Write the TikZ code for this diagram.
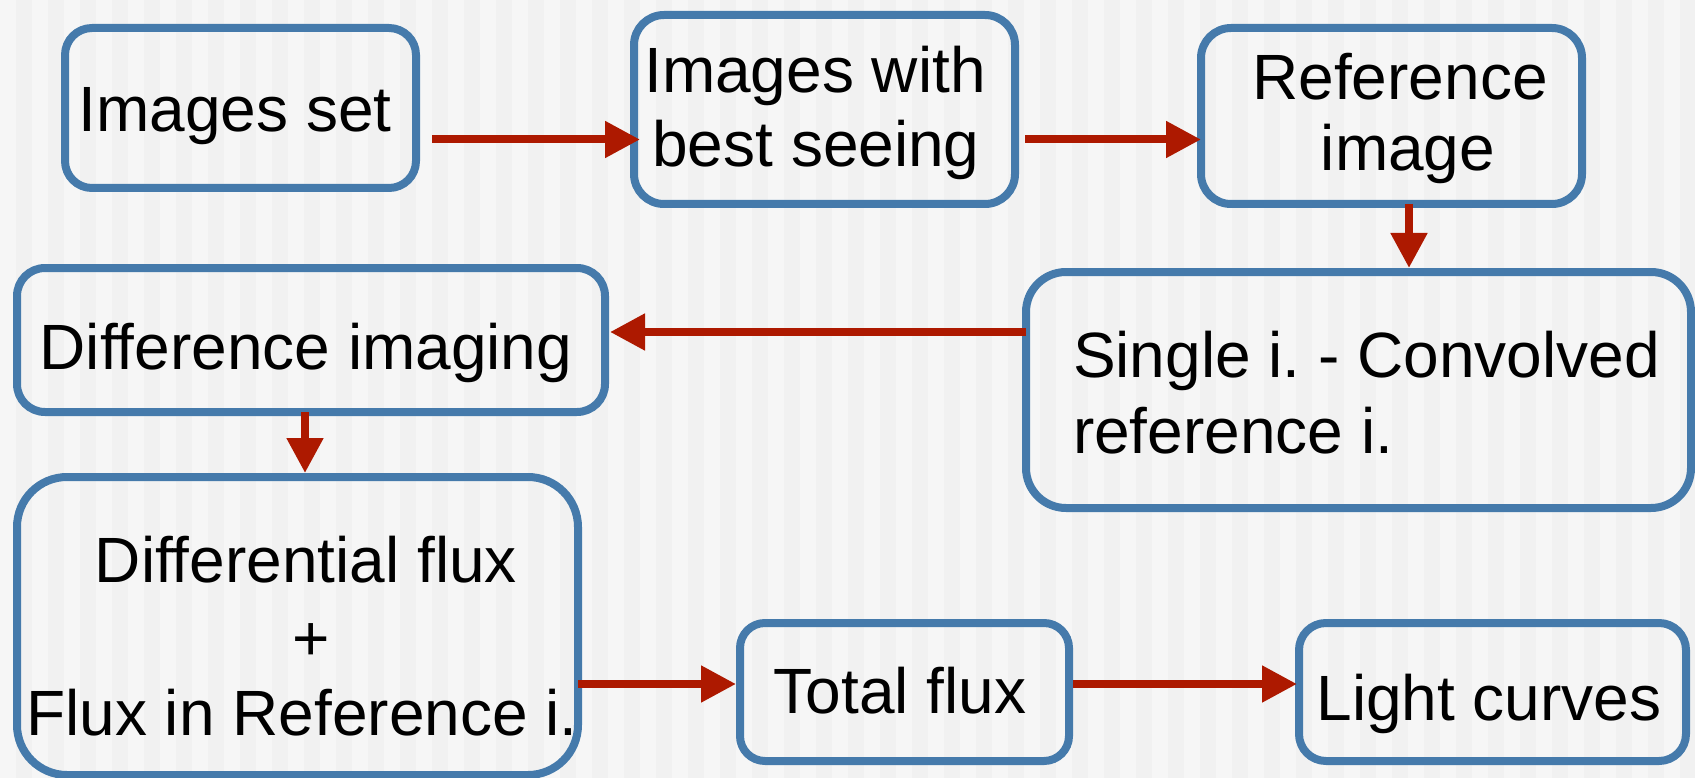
\documentclass[tikz,border=0pt]{standalone}
\usepackage{fontspec}
\setmainfont{Liberation Sans}[Ligatures=NoCommon]
\usetikzlibrary{arrows.meta}
\frenchspacing
\definecolor{boxblue}{RGB}{69,122,171}
\definecolor{arrred}{RGB}{173,25,0}
\definecolor{bgA}{RGB}{241,241,241}
\definecolor{bgB}{RGB}{246,246,246}
\tikzset{
  box/.style={draw=boxblue, line width=8pt, inner sep=0pt, outer sep=0pt},
  arr/.style={draw=arrred, line width=8pt, -{Triangle[length=35pt,width=35pt]}},
  lbl/.style={inner sep=0pt, outer sep=0pt, font=\fontsize{64}{76}\selectfont\frenchspacing, text=black}
}
\begin{document}
\begin{tikzpicture}[x=1pt,y=-1pt]
\useasboundingbox (0,0) rectangle (1695,778);
\fill[bgA] (0,0) rectangle (1695,778);
\foreach \i in {0,...,53} { \fill[bgB] (\i*32,0) rectangle ++(16,778); }

% boxes
\node[box, minimum width=351pt, minimum height=160pt, rounded corners=27pt] (b1) at (240.5,108) {};
\node[box, minimum width=381pt, minimum height=189pt, rounded corners=30pt] (b2) at (824.5,109.5) {};
\node[box, minimum width=381pt, minimum height=176pt, rounded corners=30pt] (b3) at (1391.5,116) {};
\node[box, minimum width=588pt, minimum height=144pt, rounded corners=28pt] (b4) at (311,340) {};
\node[box, minimum width=665pt, minimum height=236pt, rounded corners=40pt] (b5) at (1358.5,390) {};
\node[box, minimum width=561pt, minimum height=298pt, rounded corners=50pt] (b6) at (297.5,626) {};
\node[box, minimum width=329pt, minimum height=138pt, rounded corners=25pt] (b7) at (904.5,692) {};
\node[box, minimum width=387pt, minimum height=138pt, rounded corners=27pt] (b8) at (1492.5,692) {};

% labels
\node[lbl, anchor=base] (t1) at (235,132) {Images set};
\node[lbl, anchor=base] (t2a) at (815,93) {Images with};
\node[lbl, anchor=base] (t2b) at (816,167) {best seeing};
\node[lbl, anchor=base] (t3a) at (1400,99.5) {Reference};
\node[lbl, anchor=base] (t3b) at (1408,171) {image};
\node[lbl, anchor=base] (t4) at (306,369) {Difference imaging};
\node[lbl, anchor=base west] (t5a) at (1073,377) {Single i. - Convolved};
\node[lbl, anchor=base west] (t5b) at (1073,453) {reference i.};
\node[lbl, anchor=base] (t6a) at (306,582) {Differential flux};
\node[lbl, anchor=base] (t6b) at (311,660) {+};
\node[lbl, anchor=base] (t6c) at (302,735) {Flux in Reference i.};
\node[lbl, anchor=base] (t7) at (900,713) {Total flux};
\node[lbl, anchor=base] (t8) at (1489,720) {Light curves};

% arrows
\draw[arr] ([xshift=16pt,yshift=-31.5pt]b1.east) -- ([xshift=6pt,yshift=-30pt]b2.west);
\draw[arr] ([xshift=10pt,yshift=-30pt]b2.east) -- ([xshift=0pt,yshift=-23.5pt]b3.west);
\draw[arr] ([xshift=17.5pt]b3.south) -- ([xshift=50.5pt,yshift=4pt]b5.north);
\draw[arr] ([yshift=58pt]b5.west) -- ([xshift=5pt,yshift=8pt]b4.east);
\draw[arr] ([xshift=-6pt]b4.south) -- ([xshift=7.5pt,yshift=4pt]b6.north);
\draw[arr] ([yshift=-58pt]b6.east) -- ([xshift=-4pt,yshift=8pt]b7.west);
\draw[arr] ([xshift=4pt,yshift=8pt]b7.east) -- ([xshift=-2pt,yshift=8pt]b8.west);
\end{tikzpicture}
\end{document}
